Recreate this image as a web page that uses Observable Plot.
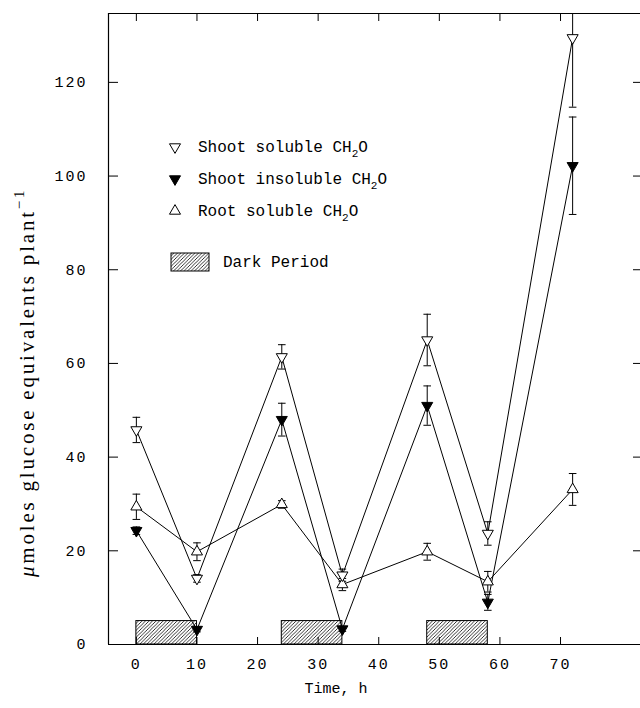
<!DOCTYPE html>
<html>
<head>
<meta charset="utf-8">
<script src="https://cdn.jsdelivr.net/npm/d3@7"></script>
<script src="https://cdn.jsdelivr.net/npm/@observablehq/plot@0.6"></script>
<style>
  html, body { margin: 0; padding: 0; background: #fff; }
  #chart { width: 640px; height: 708px; }
</style>
</head>
<body>
<div id="chart"></div>
<script>
// ---- data ----
const times = [0, 10, 24, 34, 48, 58, 72];
const shootSoluble      = [45.8, 14.1, 61.4, 14.8, 65.0, 23.7, 129.5];
const shootSolubleErr   = [2.7, 0.8, 2.6, 1.3, 5.5, 2.5, 14.8];
const shootInsoluble    = [24.3, 3.2, 48.0, 3.3, 51.0, 9.0, 102.2];
const shootInsolubleErr = [0.8, 0.5, 3.5, 0.5, 4.2, 1.7, 10.4];
const rootSoluble       = [29.4, 19.8, 29.9, 12.8, 19.8, 13.4, 33.1];
const rootSolubleErr    = [2.7, 1.9, 0.8, 1.3, 1.8, 2.2, 3.4];
const darkStart = [0, 24, 48];
const darkEnd   = [10, 34, 58];
const darkLevel = 5;
const xTicks = [0, 10, 20, 30, 40, 50, 60, 70];
const yTicks = [0, 20, 40, 60, 80, 100, 120];
const xDomain = [-4.6, 83.2];
const yDomain = [0, 134.7];

const mk = (vals, errs, series) => times.map((t, i) => ({t, v: vals[i], e: errs[i], series}));
const ss = mk(shootSoluble, shootSolubleErr, "ss");
const si = mk(shootInsoluble, shootInsolubleErr, "si");
const rs = mk(rootSoluble, rootSolubleErr, "rs");
const all = [...ss, ...si, ...rs];
const dark = darkStart.map((s, i) => ({x1: s, x2: darkEnd[i]}));

const triDown = {
  draw(ctx, size) {
    const y = -Math.sqrt(size / (Math.sqrt(3) * 3));
    ctx.moveTo(0, -2 * y);
    ctx.lineTo(-Math.sqrt(3) * y, y);
    ctx.lineTo(Math.sqrt(3) * y, y);
    ctx.closePath();
  }
};
const cap = {
  draw(ctx, size) {
    ctx.moveTo(-3.8, 0);
    ctx.lineTo(3.8, 0);
  }
};

const R = 4.1;
const plot = Plot.plot({
  width: 640,
  height: 708,
  marginLeft: 108,
  marginRight: 0,
  marginTop: 13,
  marginBottom: 64,
  style: {fontFamily: "Liberation Mono", fontSize: "15px", background: "white", color: "black"},
  x: {domain: xDomain},
  y: {domain: yDomain},
  marks: [
    Plot.rect(dark, {x1: "x1", x2: "x2", y1: 0, y2: darkLevel, fill: "url(#hatch)", stroke: "black", strokeWidth: 1}),
    Plot.line(all, {x: "t", y: "v", z: "series", stroke: "black", strokeWidth: 1}),
    Plot.ruleX(all, {x: "t", y1: d => d.v - d.e, y2: d => d.v + d.e, stroke: "black", strokeWidth: 1, clip: true}),
    Plot.dot(all, {x: "t", y: d => d.v + d.e, symbol: cap, r: 3, fill: "none", stroke: "black", strokeWidth: 1, clip: true}),
    Plot.dot(all, {x: "t", y: d => d.v - d.e, symbol: cap, r: 3, fill: "none", stroke: "black", strokeWidth: 1, clip: true}),
    Plot.dot(rs, {x: "t", y: "v", symbol: "triangle", r: R, fill: "white", stroke: "black", strokeWidth: 1}),
    Plot.dot(ss, {x: "t", y: "v", symbol: triDown, r: R, fill: "white", stroke: "black", strokeWidth: 1}),
    Plot.dot(si, {x: "t", y: "v", symbol: triDown, r: R, fill: "black", stroke: "black", strokeWidth: 1}),
    Plot.ruleX([xDomain[0]], {stroke: "black", strokeWidth: 1.2}),
    Plot.ruleY([yDomain[0]], {stroke: "black", strokeWidth: 1.2}),
    Plot.ruleY([yDomain[1]], {stroke: "black", strokeWidth: 1.2}),
    Plot.axisX({ticks: xTicks, tickSize: -7, tickPadding: 21, label: null, fontSize: 15}),
    Plot.axisX({anchor: "top", ticks: xTicks, tickSize: -7, tickFormat: () => "", label: null}),
    Plot.axisY({ticks: yTicks, tickSize: -10, tickPadding: 31, label: null, fontSize: 15}),
    Plot.axisY({anchor: "right", ticks: yTicks, tickSize: -8, tickFormat: () => "", label: null})
  ]
});

const svg = d3.select(plot);
svg.selectAll("g[aria-label='x-axis tick label'] text, g[aria-label='y-axis tick label'] text")
  .attr("letter-spacing", 2);
svg.insert("defs", ":first-child").html(
  `<pattern id="hatch" patternUnits="userSpaceOnUse" width="3.5" height="3.5">
     <path d="M-1,1 l2,-2 M0,3.5 l3.5,-3.5 M2.5,4.5 l2,-2" stroke="black" stroke-width="0.8"/>
   </pattern>`
);

// y axis title
const yt = svg.append("text")
  .attr("transform", "translate(34,577) rotate(-90)")
  .attr("text-anchor", "start")
  .attr("font-family", "Liberation Serif")
  .attr("font-size", 21)
  .attr("letter-spacing", 2.8)
  .attr("fill", "black");
yt.append("tspan").attr("font-style", "italic").text("μ");
yt.append("tspan").text("moles glucose equivalents plant");
yt.append("tspan").attr("dy", -10).attr("font-size", 15).text("−1");

// x axis title
svg.append("text")
  .attr("x", 336).attr("y", 693)
  .attr("text-anchor", "middle")
  .attr("font-family", "Liberation Mono")
  .attr("font-size", 15)
  .attr("fill", "black")
  .text("Time, h");

// legend
const lg = svg.append("g").attr("font-family", "Liberation Mono").attr("font-size", 16)
  .attr("fill", "black").attr("text-anchor", "start");
const legendRows = [
  {label: "Shoot soluble CH", sym: "down", fill: "white", y: 147},
  {label: "Shoot insoluble CH", sym: "down", fill: "black", y: 179},
  {label: "Root soluble CH", sym: "up", fill: "white", y: 211}
];
const sz = Math.PI * R * R;
legendRows.forEach(r => {
  const p = d3.symbol(r.sym === "down" ? triDown : d3.symbolTriangle, sz)();
  lg.append("path").attr("d", p).attr("transform", `translate(175,${r.y})`)
    .attr("fill", r.fill).attr("stroke", "black");
  const t = lg.append("text").attr("x", 198).attr("y", r.y + 5).attr("text-anchor", "start");
  t.append("tspan").text(r.label);
  t.append("tspan").attr("dy", 5).attr("font-size", 11).text("2");
  t.append("tspan").attr("dy", -5).text("O");
});
lg.append("rect").attr("x", 171).attr("y", 253).attr("width", 38).attr("height", 18)
  .attr("fill", "url(#hatch)").attr("stroke", "black");
lg.append("text").attr("x", 223).attr("y", 267).attr("text-anchor", "start").text("Dark Period");

document.getElementById("chart").appendChild(plot);
</script>
</body>
</html>
